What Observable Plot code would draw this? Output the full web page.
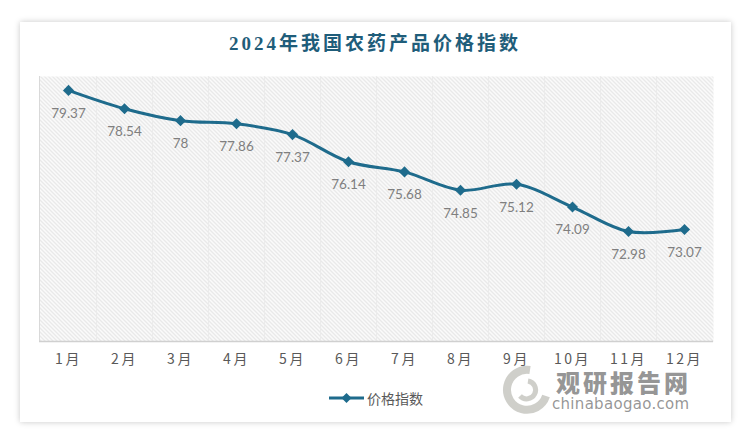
<!DOCTYPE html>
<html><head><meta charset="utf-8">
<script src="https://cdn.jsdelivr.net/npm/d3@7"></script>
<script src="https://cdn.jsdelivr.net/npm/@observablehq/plot@0.6"></script>
<style>
body{margin:0;background:#fff;width:750px;height:441px;position:relative;overflow:hidden;font-family:"Noto Sans CJK SC","Noto Sans",sans-serif;}
#card{position:absolute;left:20px;top:22px;width:711px;height:400px;background:#fff;box-shadow:0 0 6px rgba(0,0,0,0.22);}
#title{position:absolute;left:0;width:750px;top:31px;text-align:center;font-size:19px;font-weight:bold;color:#1f5d7a;font-family:"Liberation Serif","Noto Sans CJK SC",serif;letter-spacing:3px;line-height:26px;}
#chart{position:absolute;left:0;top:0;}
#legend{position:absolute;left:329px;top:386px;height:24px;display:flex;align-items:center;font-size:14px;color:#595959;}
#wm{position:absolute;left:500px;top:364px;width:200px;height:50px;}
#wm .big{position:absolute;left:56px;top:9px;font-size:24px;line-height:18px;height:18px;font-weight:900;color:rgba(115,115,115,0.75);letter-spacing:3px;}
#wm .small{position:absolute;left:52px;top:33px;font-size:15px;line-height:14px;color:rgba(115,115,115,0.75);font-family:"DejaVu Sans",sans-serif;letter-spacing:0.3px;}
</style></head>
<body>
<div id="card"></div>
<div id="title">2024年我国农药产品价格指数</div>
<div id="chart"></div>
<div id="legend"><svg width="36" height="12"><line x1="0" y1="6" x2="35" y2="6" stroke="#1e6b8c" stroke-width="3"/><path d="M17.5,1 L22.5,6 L17.5,11 L12.5,6Z" fill="#1e6b8c"/></svg><span style="margin-left:2px">价格指数</span></div>
<div id="wm">
<svg width="52" height="50" style="position:absolute;left:0;top:0">
<path d="M30,6 A20,20 0 1,0 46,32" fill="none" stroke="rgba(160,160,150,0.5)" stroke-width="8"/>
<path d="M28,17 A9,9 0 1,1 20,32" fill="none" stroke="rgba(160,160,150,0.5)" stroke-width="5"/>
</svg>
<div class="big">观研报告网</div>
<div class="small">chinabaogao.com</div>
</div>
<script>
const months = ["1月","2月","3月","4月","5月","6月","7月","8月","9月","10月","11月","12月"];
const values = [79.37, 78.54, 78, 77.86, 77.37, 76.14, 75.68, 74.85, 75.12, 74.09, 72.98, 73.07];
const seriesName = "价格指数";

const data = months.map((m, i) => ({month: m, value: values[i]}));
const W = 750, H = 380, mL = 39, mR = 37, mT = 76, mB = 39;
const step = (W - mL - mR) / months.length;
const color = "#1e6b8c";

const plot = Plot.plot({
  width: W, height: H,
  marginLeft: mL, marginRight: mR, marginTop: mT, marginBottom: mB,
  style: {background: "transparent", overflow: "visible"},
  x: {type: "point", domain: months, padding: 0.5, label: null},
  y: {domain: [68, 80], axis: null},
  marks: [
    Plot.frame({fill: "url(#hatch)", stroke: null}),
    Plot.ruleX(months.slice(0, -1), {x: d => d, dx: step / 2, stroke: "#ebebeb", strokeWidth: 1}),
    Plot.frame({anchor: "left", stroke: "#d9d9d9"}),
    Plot.ruleY([68], {stroke: "#d0d0d0", strokeWidth: 1.5}),
    Plot.line(data, {x: "month", y: "value", stroke: color, strokeWidth: 3, curve: "catmull-rom"}),
    Plot.dot(data, {x: "month", y: "value", symbol: "diamond2", r: 5, fill: color, stroke: null}),
    Plot.text(data, {x: "month", y: "value", text: d => String(d.value), dy: 23, fill: "#7f7f7f", fontSize: 13.5, fontFamily: "Lato, 'Open Sans', sans-serif"}),
    Plot.axisX({tickSize: 0, tickPadding: 13, fontSize: 14, fill: "#595959", fontFamily: "'Noto Sans CJK SC', sans-serif", label: null, className: "xax"})
  ]
});

d3.select(plot).selectAll(".xax text").style("letter-spacing", "2.5px");

const defs = d3.select(plot).insert("defs", ":first-child");
const pat = defs.append("pattern").attr("id", "hatch").attr("patternUnits", "userSpaceOnUse").attr("width", 4).attr("height", 4);
pat.append("rect").attr("width", 4).attr("height", 4).attr("fill", "#fafafa");
pat.append("path").attr("d", "M-1,-1 L5,5 M3,-1 L5,1 M-1,3 L1,5").attr("stroke", "#cfcfcf").attr("stroke-width", 0.8);

document.getElementById("chart").appendChild(plot);
</script>
</body></html>
